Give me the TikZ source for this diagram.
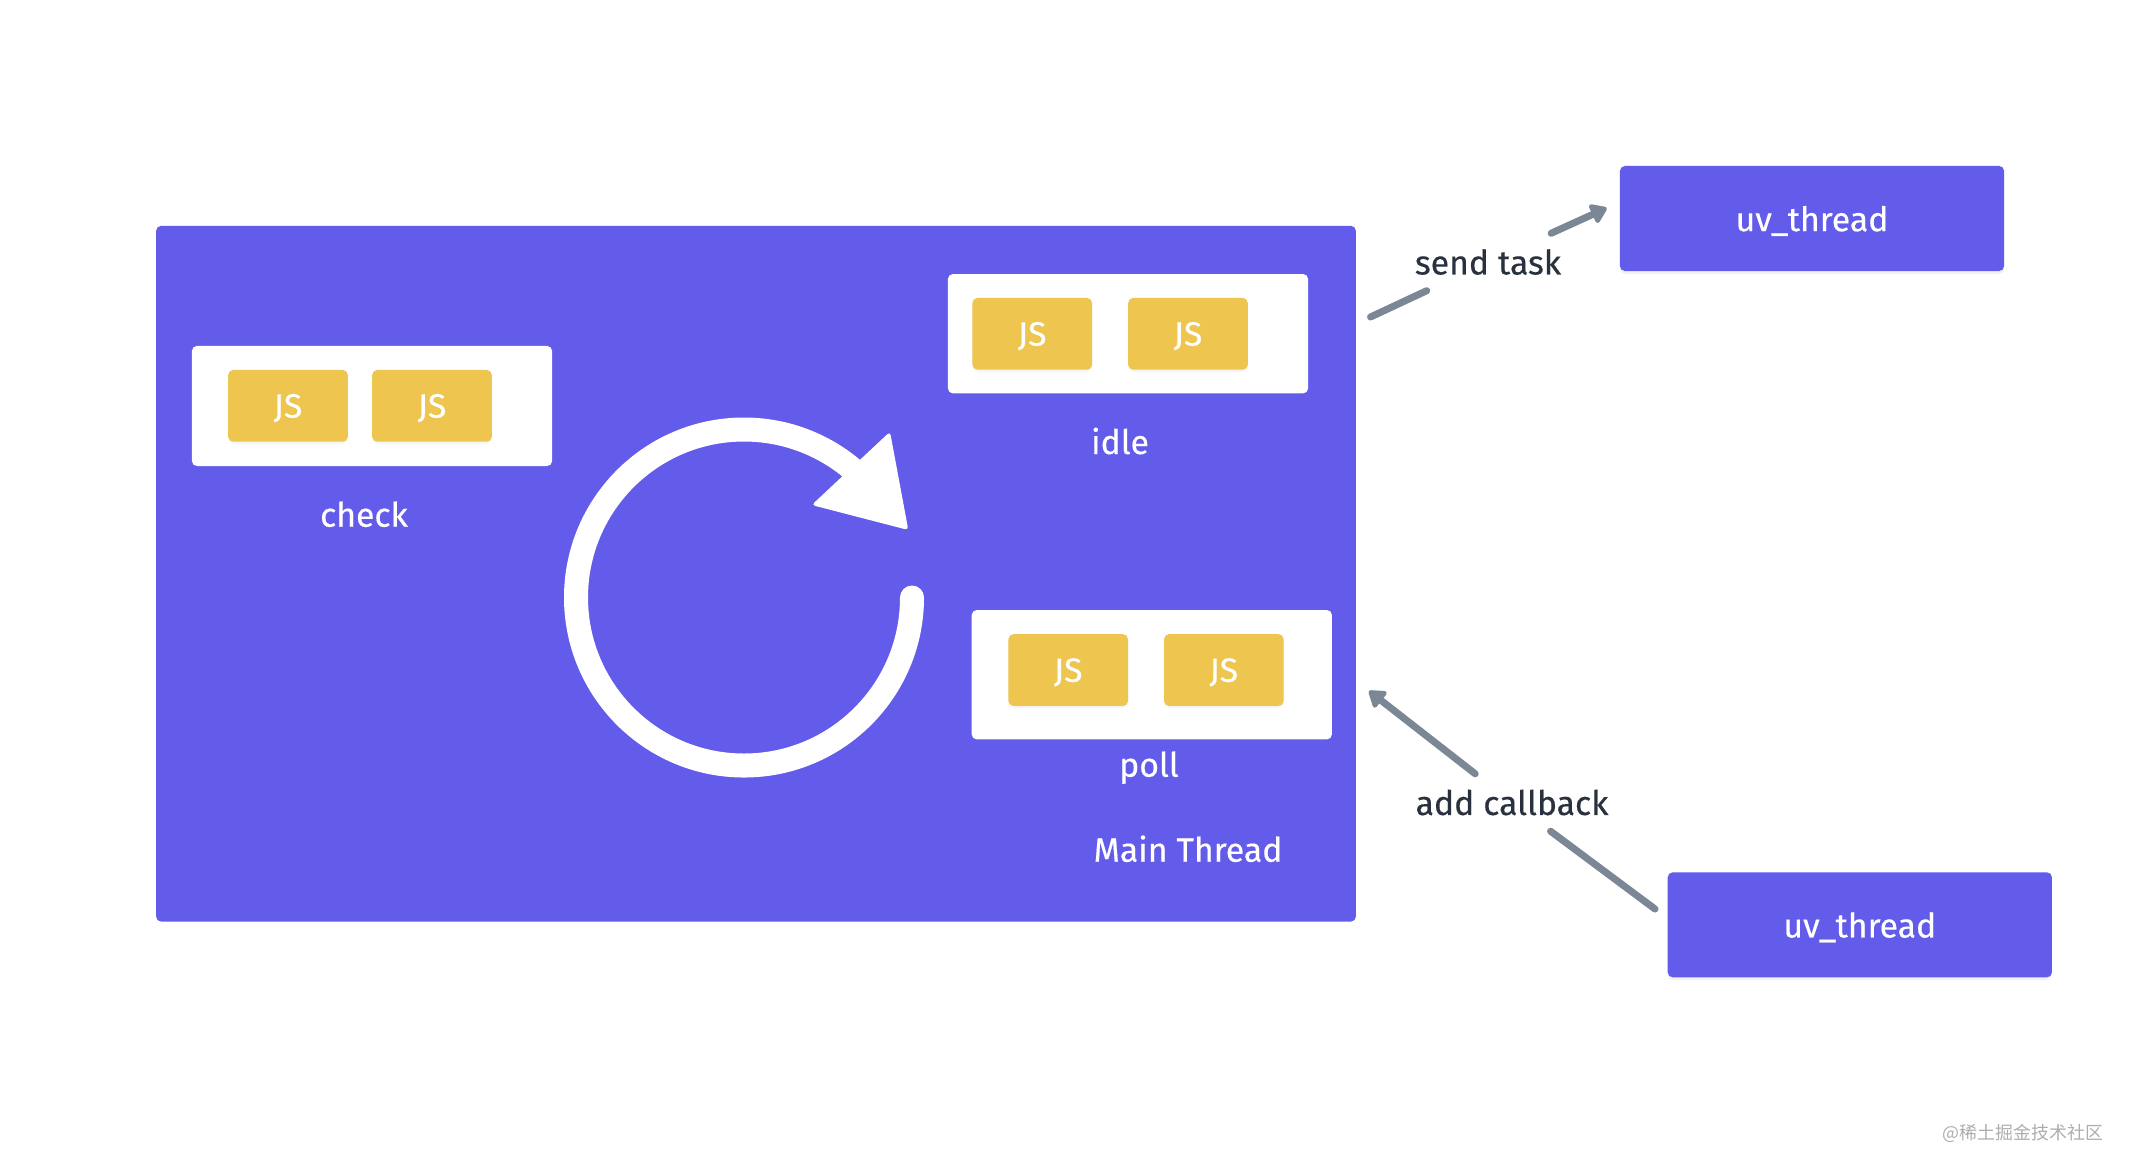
\documentclass[tikz,border=0pt]{standalone}
\usepackage{fontspec}
\setmainfont{Fira Sans}[FakeBold=0.35]
\newfontfamily\cjk{Noto Sans CJK SC}
\usetikzlibrary{arrows.meta,shadows}
\definecolor{loopblue}{HTML}{635BEA}
\definecolor{jsyellow}{HTML}{EEC54E}
\definecolor{linkgray}{HTML}{7B8794}
\definecolor{labelgray}{HTML}{28313D}
\begin{document}
\begin{tikzpicture}[x=0.01cm, y=-0.01cm, font=\fontsize{9.6}{11}\selectfont,
    thread/.style={fill=loopblue, rounded corners=0.5mm, text=white, inner sep=0pt},
    uvbox/.style={thread, minimum width=3.84cm, minimum height=1.05cm, text depth=0pt, drop shadow={opacity=0.1, shadow xshift=0pt, shadow yshift=-0.8pt}},
    queue/.style={fill=white, rounded corners=0.5mm, minimum width=3.6cm, inner sep=0pt},
    jsbox/.style={fill=jsyellow, rounded corners=0.5mm, text=white, minimum width=1.195cm, minimum height=0.717cm, inner sep=0pt, text depth=0pt, drop shadow={opacity=0.08, shadow xshift=0pt, shadow yshift=-0.6pt}},
    phase/.style={text=white, anchor=base, inner sep=0pt},
    link/.style={draw=linkgray, line width=2pt, line cap=round, -{Triangle[length=5pt,width=6.5pt,round]}},
    linklabel/.style={text=labelgray, minimum height=0.56cm, inner sep=0pt}]
  \useasboundingbox (0,0) rectangle (2134,1172);
  % main thread and its queues
  \node[thread, minimum width=11.99cm, minimum height=6.954cm] (main) at (756,573.7) {};
  \node[queue, minimum height=1.2cm] (check) at (372,406) {};
  \node[queue, minimum height=1.193cm] (idle) at (1128,333.7) {};
  \node[queue, minimum height=1.293cm] (poll) at (1151.8,674.7) {};
  \foreach \n/\x/\y in {c1/288/405.8, c2/432/405.8, i1/1032.2/333.8, i2/1188/333.8, p1/1068.2/670, p2/1223.8/670}
    \node[jsbox] (\n) at (\x,\y) {JS};
  \node[phase] (checklbl) at (364,526.7) {check};
  \node[phase] (idlelbl) at (1120,454) {idle};
  \node[phase] (polllbl) at (1149,776.7) {poll};
  \node[phase] (mainlbl) at (1188,861.7) {Main Thread};
  % the loop
  \coordinate (hub) at (744,597.5);
  \draw[white, line width=0.24cm, line cap=round] ([shift={(0:168)}]hub) arc[start angle=0, end angle=312, radius=168];
  \fill[white, rounded corners=1pt] (890,431.7) -- (811.7,505) -- (908.3,530) -- cycle;
  % worker threads
  \node[uvbox] (uvtop) at (1812,218.5) {uv\_thread};
  \node[uvbox] (uvbot) at (1859.8,924.8) {uv\_thread};
  \node[linklabel] (send) at (1488,262) {send task};
  \node[linklabel] (back) at (1512,802.5) {add callback};
  \coordinate (sendfrom) at (1370.5,317); \coordinate (sendto) at (1606.7,208);
  \coordinate (backfrom) at (1655,909); \coordinate (backto) at (1369,691);
  \draw[link, -] (sendfrom) -- (send); \draw[link] (send) -- (sendto);
  \draw[link, -] (backfrom) -- (back); \draw[link] (back) -- (backto);
  \node[text=black!32, font=\cjk\fontsize{5.1}{6}\selectfont] (mark) at (2023,1133) {@稀土掘金技术社区};
\end{tikzpicture}
\end{document}
